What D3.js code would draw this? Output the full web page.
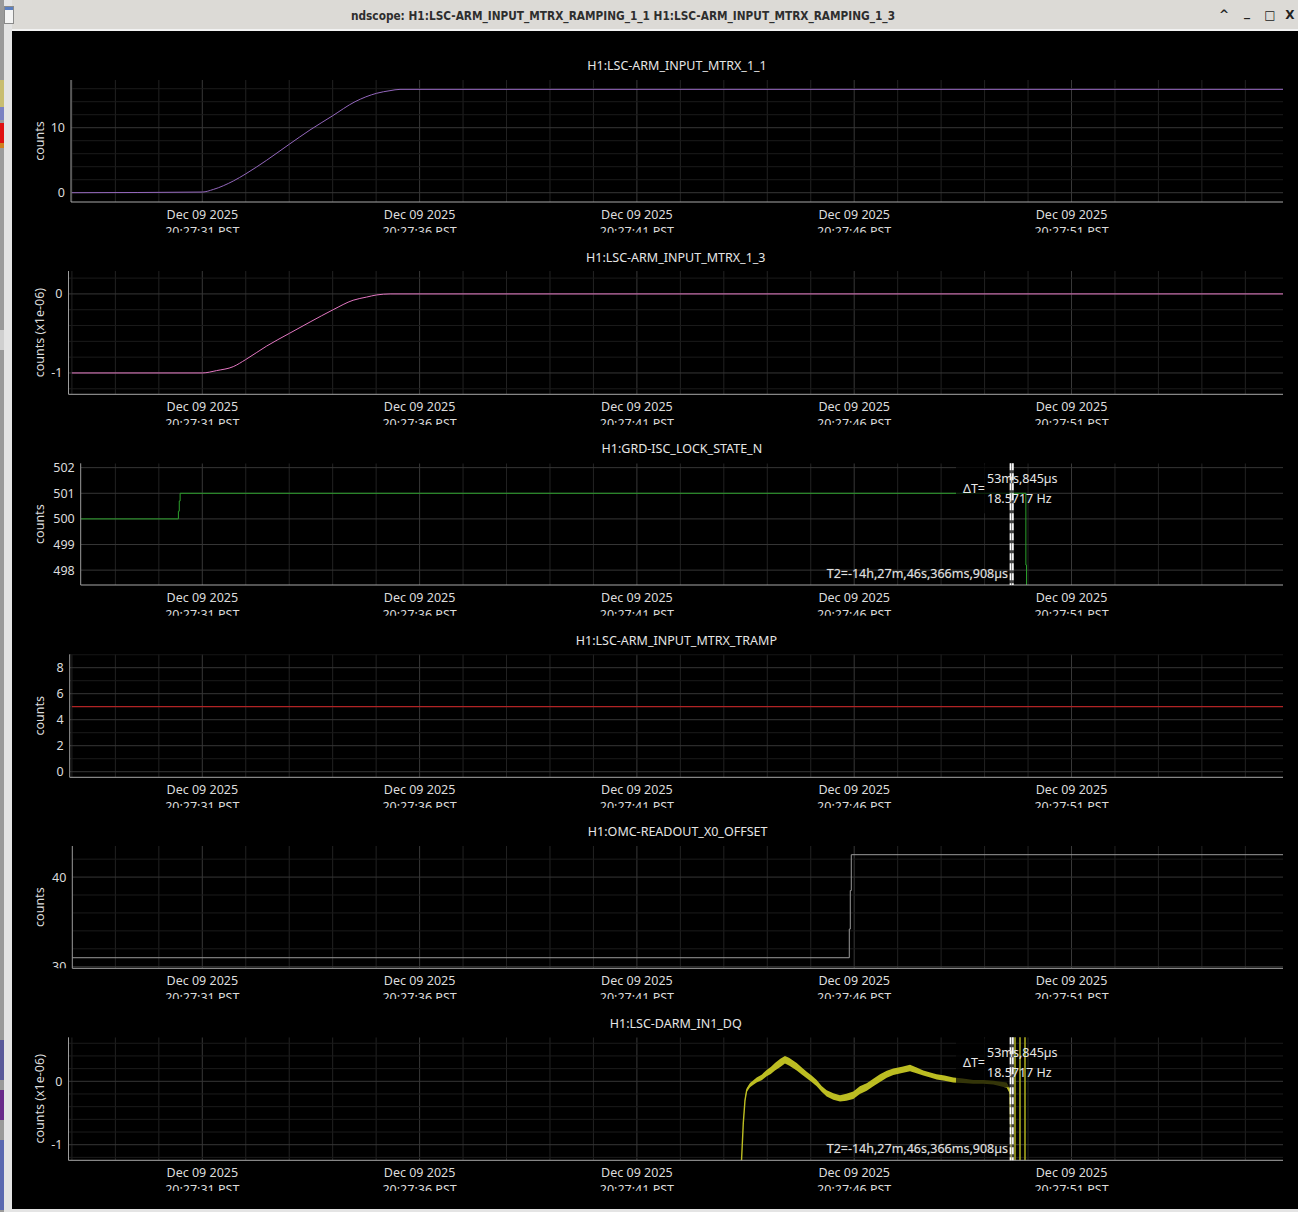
<!DOCTYPE html>
<html><head><meta charset="utf-8">
<script src="https://cdn.jsdelivr.net/npm/d3@7"></script>
<style>body{margin:0;background:#000;overflow:hidden}svg{display:block}</style>
</head><body>
<svg id="c" width="1298" height="1212"></svg>
<script>
// ---------------- DATA ----------------
const windowTitle = "ndscope: H1:LSC-ARM_INPUT_MTRX_RAMPING_1_1 H1:LSC-ARM_INPUT_MTRX_RAMPING_1_3";
const channels = ["H1:LSC-ARM_INPUT_MTRX_1_1","H1:LSC-ARM_INPUT_MTRX_1_3","H1:GRD-ISC_LOCK_STATE_N","H1:LSC-ARM_INPUT_MTRX_TRAMP","H1:OMC-READOUT_X0_OFFSET","H1:LSC-DARM_IN1_DQ"];
const yLabels = ["counts","counts (x1e-06)","counts","counts","counts","counts (x1e-06)"];
// time in seconds after 20:27:00 PST
const timeTickSec = [31,36,41,46,51];
const timeTickDate = "Dec 09 2025";
const timeTickLabels = ["20:27:31 PST","20:27:36 PST","20:27:41 PST","20:27:46 PST","20:27:51 PST"];
const yTicks = [[0,10],[-1,0],[498,499,500,501,502],[0,2,4,6,8],[30,40],[-1,0]];
const yMinorStep = [2,0.2,1,1,2,0.2];
const yDomains = [[-1.43,17.34],[-1.27,0.29],[497.42,502.17],[-0.43,9.03],[29.82,43.47],[-1.246,0.694]];

const mtrx11T = [28,31.0,31.253,31.713,32.0,32.482,33.0,33.478,33.99,34.514,35.013,35.319,35.549,56];
const mtrx11V = [0,0.1,0.5,1.8,2.9,5.0,7.45,9.65,11.8,14.0,15.3,15.7,15.9,15.9];
const mtrx13T = [28,31.0,31.33,31.713,32.0,32.48,33.0,33.48,34.01,34.47,34.78,35.01,35.32,56];
const mtrx13V = [-1,-1,-0.97,-0.92,-0.83,-0.66,-0.50,-0.355,-0.20,-0.08,-0.04,-0.013,0,0];
const stateT = [28,30.45,30.45,30.47,30.47,30.49,30.49,49.95,49.95,49.965,49.965];
const stateV = [500,500,500.3,500.3,500.7,500.7,501,501,498.2,498.2,480];
const trampT = [28,56];
const trampV = [5,5];
const omcT = [28,45.887,45.887,45.91,45.91,45.933,45.933,56];
const omcV = [31,31,34.2,34.2,38.5,38.5,42.5,42.5];
const darmT = [43.39,43.448,43.487,43.526,43.602,43.68,43.756,43.87,43.986,44.08,44.177,44.3,44.407,44.5,44.677,44.8,44.907,45.02,45.137,45.25,45.367,45.52,45.673,45.82,45.979,46.13,46.288,46.44,46.594,46.75,46.9,47.1,47.284,47.45,47.59,47.75,47.898,48.08,48.28,48.5,48.74,48.97,49.2,49.509,49.585,49.62,49.70,49.70,49.815,49.815,49.93,49.93,49.95];
const darmV = [-1.5,-0.66,-0.30,-0.14,-0.06,-0.02,0.02,0.06,0.13,0.17,0.23,0.29,0.34,0.31,0.23,0.16,0.10,0.04,-0.03,-0.12,-0.19,-0.24,-0.27,-0.25,-0.22,-0.14,-0.09,-0.02,0.05,0.11,0.15,0.18,0.21,0.17,0.13,0.10,0.07,0.05,0.02,0.01,-0.01,-0.01,-0.02,-0.06,-0.16,-1.6,-1.6,1.0,1.0,-1.6,-1.6,1.0,1.0];
const darmSpread = [0,0.01,0.02,0.03,0.035,0.035,0.04,0.045,0.05,0.055,0.06,0.065,0.06,0.06,0.06,0.055,0.05,0.05,0.05,0.045,0.05,0.05,0.05,0.055,0.06,0.06,0.06,0.06,0.06,0.055,0.05,0.05,0.05,0.045,0.04,0.04,0.04,0.04,0.04,0.035,0.03,0.03,0.03,0.04,0.04,0,0,0,0,0,0,0,0];

const seriesT = [mtrx11T,mtrx13T,stateT,trampT,omcT,darmT];
const seriesV = [mtrx11V,mtrx13V,stateV,trampV,omcV,darmV];
const seriesColor = ["#9467bd","#e377c2","#2ca02c","#d62728","#9a9a9a","#bcbd22"];

const cursorT1 = 49.597;
const cursorDelta = 0.053845;
const deltaLabel = ["53ms,845µs","18.5717 Hz"];
const t2Label = "T2=-14h,27m,46s,366ms,908µs";
const cursorPanels = [2,5];

// ---------------- LAYOUT ----------------
const plotRight = 1283;
const boxes = [
  {left:71,  top:80,    bottom:202,   titleY:65},
  {left:68.5,top:271,   bottom:394.3, titleY:257},
  {left:80.7,top:463.3, bottom:585,   titleY:448},
  {left:69.7,top:654.3, bottom:777.3, titleY:640},
  {left:72.3,top:846,   bottom:968.3, titleY:831},
  {left:68.5,top:1037.3,bottom:1160.3,titleY:1023}
];
const smooth = [true,true,false,false,false,false];
const FONT = "'Noto Sans', 'Open Sans', sans-serif";
const svg = d3.select("#c");

// window chrome
svg.append("rect").attr("x",0).attr("y",0).attr("width",1298).attr("height",1212).attr("fill","#000");
svg.append("rect").attr("x",0).attr("y",0).attr("width",1298).attr("height",30).attr("fill","#dcdad6");
svg.append("rect").attr("x",0).attr("y",29).attr("width",1298).attr("height",2).attr("fill","#f2f2f2");
svg.append("rect").attr("x",0).attr("y",0).attr("width",12).attr("height",1212).attr("fill","#e4e4e4");
svg.append("rect").attr("x",0).attr("y",1209).attr("width",1298).attr("height",3).attr("fill","#e4e4e4");
svg.append("rect").attr("x",0).attr("y",0).attr("width",4).attr("height",1212).attr("fill","#9a9a9a");
[[80,27,"#c8bd70"],[107,13,"#7b82c2"],[123,20,"#e01010"],[143,5,"#d08020"],[150,170,"#9c9c9c"],[330,20,"#cfcfcf"],[1040,40,"#5a5a9a"],[1090,30,"#6a2a8a"],[1140,70,"#5a68b0"]].forEach(d=>{
  svg.append("rect").attr("x",0).attr("y",d[0]).attr("width",4).attr("height",d[1]).attr("fill",d[2]);
});
svg.append("rect").attr("x",4.5).attr("y",6.5).attr("width",9).attr("height",17).attr("fill","#f4f4f4").attr("stroke","#8a8a8a");
svg.append("rect").attr("x",5).attr("y",7).attr("width",8).attr("height",3).attr("fill","#5b7fc0");
svg.append("text").attr("x",623).attr("y",19.5).attr("text-anchor","middle")
  .attr("font-family","'DejaVu Sans', sans-serif").attr("font-weight","bold").attr("font-size",12)
  .attr("textLength",544).attr("lengthAdjust","spacingAndGlyphs").attr("fill","#2e2e2e").text(windowTitle);
[["^",1224,19],["_",1247,16],["□",1270,19],["X",1290,19]].forEach(b=>{
  svg.append("text").attr("x",b[1]).attr("y",b[2]).attr("text-anchor","middle").attr("font-family","'DejaVu Sans', sans-serif")
    .attr("font-weight","bold").attr("font-size",12).attr("fill","#222").text(b[0]);
});

// shared time scale: 31 s -> 202.3 px, 43.46 px/s
const x = d3.scaleLinear().domain([31,36]).range([202.3, 202.3+5*43.46]);
const defs = svg.append("defs");

boxes.forEach((b,i)=>{
  const g = svg.append("g");
  const y = d3.scaleLinear().domain(yDomains[i]).range([b.bottom,b.top]);
  const cid = "clip"+i, lid = "lclip"+i, xid = "xclip"+i;
  defs.append("clipPath").attr("id",cid).append("rect").attr("x",b.left).attr("y",b.top).attr("width",plotRight-b.left).attr("height",b.bottom-b.top);
  defs.append("clipPath").attr("id",lid).append("rect").attr("x",0).attr("y",b.top-12).attr("width",b.left).attr("height",b.bottom-b.top+12);
  defs.append("clipPath").attr("id",xid).append("rect").attr("x",b.left-60).attr("y",b.bottom).attr("width",plotRight-b.left+120).attr("height",30.7);

  const grid = g.append("g").attr("clip-path",`url(#${cid})`);
  const tMin = Math.ceil(x.invert(b.left)), tMax = Math.floor(x.invert(plotRight));
  d3.range(tMin,tMax+1).forEach(t=>{
    const major = timeTickSec.includes(t);
    grid.append("line").attr("x1",x(t)).attr("x2",x(t)).attr("y1",b.top).attr("y2",b.bottom)
      .attr("stroke",major?"#383838":"#222222").attr("stroke-width",1);
  });
  const [y0,y1] = yDomains[i];
  const st = yMinorStep[i];
  for(let k=Math.ceil(y0/st); k*st<=y1; k++){
    const v = +(k*st).toFixed(6);
    const major = yTicks[i].some(tv=>Math.abs(tv-v)<1e-6);
    grid.append("line").attr("x1",b.left).attr("x2",plotRight).attr("y1",y(v)).attr("y2",y(v))
      .attr("stroke",major?"#363636":"#1b1b1b").attr("stroke-width",1);
  }

  // data
  const data = seriesT[i].map((t,k)=>({t, v:seriesV[i][k]}));
  const dg = g.append("g").attr("clip-path",`url(#${cid})`);
  if(i===5){
    const band = seriesT[i].map((t,k)=>({t, lo:seriesV[i][k]-darmSpread[k], hi:seriesV[i][k]+darmSpread[k]}));
    dg.append("path").datum(band).attr("fill",seriesColor[i])
      .attr("d",d3.area().x(d=>x(d.t)).y0(d=>y(d.lo)).y1(d=>y(d.hi)));
  }
  const line = d3.line().x(d=>x(d.t)).y(d=>y(d.v));
  if(smooth[i]) line.curve(d3.curveMonotoneX);
  dg.append("path").datum(data).attr("fill","none").attr("stroke",seriesColor[i]).attr("stroke-width",i===5?1.4:1)
    .attr("d",line);

  // axes lines
  g.append("line").attr("x1",b.left).attr("x2",b.left).attr("y1",b.top).attr("y2",b.bottom).attr("stroke","#9c9c9c");
  g.append("line").attr("x1",b.left).attr("x2",plotRight).attr("y1",b.bottom).attr("y2",b.bottom).attr("stroke","#a8a8a8");

  // y tick labels
  const yl = g.append("g").attr("clip-path",`url(#${lid})`);
  yTicks[i].forEach(v=>{
    yl.append("text").attr("x",b.left-6).attr("y",y(v)).attr("dy","0.36em").attr("text-anchor","end")
      .attr("font-family",FONT).attr("font-size",12.5).attr("fill","#dcdcdc").text(String(v));
  });
  g.append("text").attr("transform",`translate(${44},${(b.top+b.bottom)/2}) rotate(-90)`).attr("text-anchor","middle")
    .attr("font-family",FONT).attr("font-size",12.5).attr("fill","#dcdcdc").text(yLabels[i]);
  const xl = g.append("g").attr("clip-path",`url(#${xid})`);
  timeTickSec.forEach((t,k)=>{
    if(x(t)>plotRight) return;
    xl.append("text").attr("x",x(t)).attr("y",b.bottom+17).attr("text-anchor","middle")
      .attr("font-family",FONT).attr("font-size",12.5).attr("fill","#dcdcdc").text(timeTickDate);
    xl.append("text").attr("x",x(t)).attr("y",b.bottom+34).attr("text-anchor","middle")
      .attr("font-family",FONT).attr("font-size",12.5).attr("fill","#dcdcdc").text(timeTickLabels[k]);
  });
  g.append("text").attr("x",(b.left+plotRight)/2).attr("y",b.titleY).attr("dy","0.36em").attr("text-anchor","middle")
    .attr("font-family",FONT).attr("font-size",12.5).attr("fill","#e6e6e6").text(channels[i]);

  // cursors
  if(cursorPanels.includes(i)){
    const c1 = x(cursorT1), c2 = x(cursorT1+cursorDelta);
    const cg = g.append("g");
    cg.append("rect").attr("x",956).attr("y",b.top+1).attr("width",c1-956-1).attr("height",49).attr("fill","rgba(0,0,0,0.72)");
    cg.append("rect").attr("x",c1-1).attr("y",b.top).attr("width",c2-c1+2).attr("height",b.bottom-b.top).attr("fill","rgba(150,150,150,0.45)");
    [c1,c2].forEach(cx=>{
      cg.append("line").attr("x1",cx).attr("x2",cx).attr("y1",b.top).attr("y2",b.bottom)
        .attr("stroke","#ffffff").attr("stroke-width",1.6).attr("stroke-dasharray","7,3");
    });
    cg.append("text").attr("x",985).attr("y",b.top+25).attr("dy","0.36em").attr("text-anchor","end")
      .attr("font-family",FONT).attr("font-size",12.5).attr("fill","#e8e8e8").text("ΔT=");
    deltaLabel.forEach((s,k)=>{
      cg.append("text").attr("x",987).attr("y",b.top+15+20*k).attr("dy","0.36em")
        .attr("font-family",FONT).attr("font-size",12.5).attr("fill","#e8e8e8").text(s);
    });
    cg.append("text").attr("x",c1-2.5).attr("y",b.bottom-12).attr("dy","0.36em").attr("text-anchor","end")
      .attr("font-family",FONT).attr("font-size",12.5).attr("fill","#e0e0e0")
      .attr("stroke","rgba(120,120,120,0.6)").attr("stroke-width",0.6).attr("paint-order","stroke").text(t2Label);
  }
});
</script>
</body></html>
